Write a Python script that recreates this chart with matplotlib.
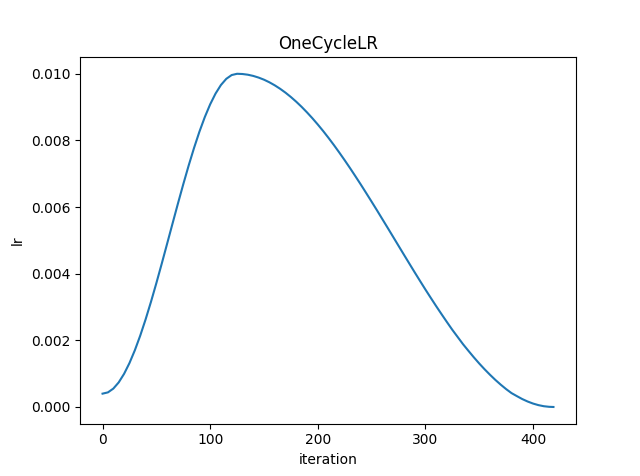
import matplotlib
matplotlib.use("Agg")
import matplotlib.pyplot as plt

iterations = [0, 5, 10, 15, 20, 25, 30, 35, 40, 45, 50, 55, 60, 65, 70, 75,
              80, 85, 90, 95, 100, 105, 110, 115, 120, 125, 130, 135, 140,
              145, 150, 155, 160, 165, 170, 175, 180, 185, 190, 195, 200,
              205, 210, 215, 220, 225, 230, 235, 240, 245, 250, 255, 260,
              265, 270, 275, 280, 285, 290, 295, 300, 305, 310, 315, 320,
              325, 330, 335, 340, 345, 350, 355, 360, 365, 370, 375, 380,
              385, 390, 395, 400, 405, 410, 415, 419]
lr = [0.000400, 0.000438, 0.000551, 0.000737, 0.000994, 0.001317, 0.001701,
      0.002140, 0.002628, 0.003156, 0.003717, 0.004301, 0.004899, 0.005501,
      0.006099, 0.006683, 0.007244, 0.007772, 0.008260, 0.008699, 0.009083,
      0.009406, 0.009663, 0.009849, 0.009962, 0.010000, 0.009993, 0.009972,
      0.009936, 0.009886, 0.009823, 0.009745, 0.009654, 0.009550, 0.009433,
      0.009303, 0.009161, 0.009007, 0.008841, 0.008665, 0.008478, 0.008282,
      0.008075, 0.007860, 0.007636, 0.007405, 0.007168, 0.006923, 0.006675,
      0.006420, 0.006163, 0.005903, 0.005638, 0.005374, 0.005107, 0.004840,
      0.004573, 0.004308, 0.004044, 0.003784, 0.003526, 0.003275, 0.003027,
      0.002786, 0.002549, 0.002317, 0.002100, 0.001883, 0.001685, 0.001491,
      0.001306, 0.001132, 0.000968, 0.000813, 0.000670, 0.000537, 0.000417,
      0.000326, 0.000238, 0.000164, 0.000103, 0.000056, 0.000023, 0.000005,
      0.000000]

fig, ax = plt.subplots(figsize=(6.4, 4.76), dpi=100)
ax.plot(iterations, lr)
ax.set_title("OneCycleLR")
ax.set_xlabel("iteration")
ax.set_ylabel("lr")
fig.savefig("out.png")
